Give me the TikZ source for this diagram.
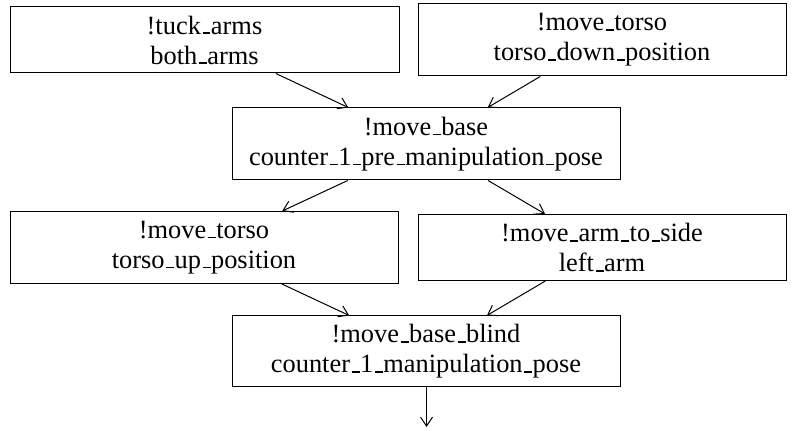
\documentclass[tikz,border=0pt]{standalone}
\usepackage{fontspec}
\setmainfont{Liberation Serif}
\usepackage{tikz}
\usetikzlibrary{arrows.meta,positioning}
\newcommand{\us}{\kern.06em\rule{.3em}{.8pt}\kern.02em}
\tikzstyle{task}  = [draw=black, line width=0.5pt, inner sep=0pt, align=center, font=\rmfamily\fontsize{13.2}{15}\selectfont]
\tikzstyle{arrow} = [line width=0.5pt,-{Straight Barb[length=4.5pt,width=6pt]}]

\begin{document}
\begin{tikzpicture}[x=0.5pt,y=-0.5pt]
		\useasboundingbox (0,0) rectangle (795,431);

		\node[task, minimum width=194.5pt, minimum height=33pt] (tuck) at (204.5,40) {!tuck\us arms\\both\us arms};
		\node[task, minimum width=184pt, minimum height=36pt] (torsodown) at (602,40) {!move\us torso\\torso\us down\us position};

		\node[task, minimum width=194pt, minimum height=36pt] (base) at (426,144) {!move\us base\\counter\us 1\us pre\us manipulation\us pose};

		\node[task, minimum width=194pt, minimum height=36pt] (torsoup) at (204,247.5) {!move\us torso\\torso\us up\us position};
		\node[task, minimum width=184pt, minimum height=33pt] (armside) at (602,247.5) {!move\us arm\us to\us side\\left\us arm};

		\node[task, minimum width=194pt, minimum height=35.5pt] (blind) at (426,351.5) {!move\us base\us blind\\counter\us 1\us manipulation\us pose};
		\coordinate (next) at (426.5,427);

		\draw[arrow] (tuck) -- (base);
		\draw[arrow] (torsodown) -- (base);
		\draw[arrow] (base) -- (torsoup);
		\draw[arrow] (base) -- (armside);
		\draw[arrow] (torsoup) -- (blind);
		\draw[arrow] (armside) -- (blind);
		\draw[arrow] (blind.south -| next) -- (next);
	\end{tikzpicture}
\end{document}
